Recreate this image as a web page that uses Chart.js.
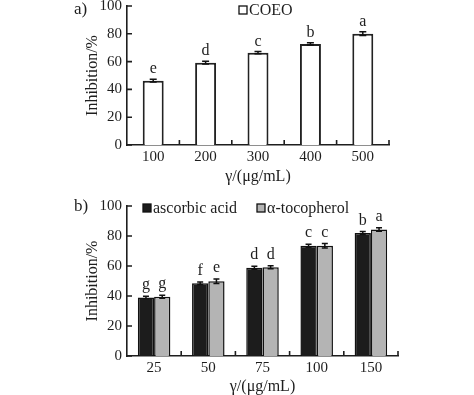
<!DOCTYPE html>
<html>
<head>
<meta charset="utf-8">
<script src="https://cdn.jsdelivr.net/npm/chart.js@4.4.1/dist/chart.umd.min.js"></script>
<style>
  html,body{margin:0;padding:0;background:#fff;overflow:hidden;width:474px;height:395px;}
  .wrap{position:absolute;left:0;width:474px;}
  canvas{display:block;}
</style>
</head>
<body>
<div class="wrap" id="wa" style="top:-10px;height:198px;"><canvas id="ca" width="474" height="198"></canvas></div>
<div class="wrap" id="wb" style="top:190px;height:205px;"><canvas id="cb" width="474" height="205"></canvas></div>
<script>
// ---- data: panel a ----
const catsA = ['100', '200', '300', '400', '500'];
const coeoValues = [46.3, 59.2, 66.4, 72.7, 80.1];
const coeoErrors = [1.0, 1.0, 0.8, 0.8, 1.4];
const coeoLetters = ['e', 'd', 'c', 'b', 'a'];
// ---- data: panel b ----
const catsB = ['25', '50', '75', '100', '150'];
const ascorbicValues = [39.0, 48.5, 58.8, 73.5, 82.0];
const ascorbicErrors = [0.8, 0.9, 1.0, 1.0, 1.0];
const ascorbicLetters = ['g', 'f', 'd', 'c', 'b'];
const tocoValues = [39.5, 49.8, 59.2, 73.5, 84.3];
const tocoErrors = [1.0, 1.5, 1.0, 1.5, 1.2];
const tocoLetters = ['g', 'e', 'd', 'c', 'a'];
const yTicks = [0, 20, 40, 60, 80, 100];

const SERIF = '"Liberation Serif", "Times New Roman", serif';
const INK = '#1e1e1e';

const decorPlugin = {
  id: 'decor',
  afterDatasetsDraw(chart, args, opts) {
    const ctx = chart.ctx;
    const y = chart.scales.y;
    ctx.save();
    chart.data.datasets.forEach((ds, di) => {
      const meta = chart.getDatasetMeta(di);
      meta.data.forEach((bar, i) => {
        const v = ds.data[i], e = ds.errors[i];
        const yt = y.getPixelForValue(v + e), yb = y.getPixelForValue(v - e);
        const cx = bar.x, hw = opts.cap / 2;
        ctx.strokeStyle = '#111';
        ctx.lineWidth = 1.5;
        ctx.beginPath();
        ctx.moveTo(cx, yt); ctx.lineTo(cx, yb);
        ctx.moveTo(cx - hw, yt); ctx.lineTo(cx + hw, yt);
        ctx.moveTo(cx - hw, yb); ctx.lineTo(cx + hw, yb);
        ctx.stroke();
        ctx.fillStyle = INK;
        ctx.font = '16px ' + SERIF;
        ctx.textAlign = 'center';
        ctx.textBaseline = 'alphabetic';
        ctx.fillText(ds.letters[i], cx, yt - opts.letterGap);
      });
    });
    ctx.restore();
  },
  afterDraw(chart, args, opts) {
    const ctx = chart.ctx;
    const x = chart.scales.x, y = chart.scales.y;
    const area = chart.chartArea;
    ctx.save();
    ctx.strokeStyle = INK;
    ctx.lineWidth = 1.6;
    ctx.beginPath();
    y.ticks.forEach((t, i) => {
      const py = y.getPixelForTick(i);
      ctx.moveTo(area.left, py); ctx.lineTo(area.left + 5, py);
    });
    const n = x.ticks.length;
    for (let i = 1; i <= n; i++) {
      const px = i < n ? (x.getPixelForTick(i - 1) + x.getPixelForTick(i)) / 2 : area.right;
      ctx.moveTo(px, area.bottom); ctx.lineTo(px, area.bottom - 5);
    }
    ctx.stroke();
    ctx.fillStyle = INK;
    ctx.font = '17px ' + SERIF;
    ctx.textAlign = 'left';
    ctx.textBaseline = 'middle';
    ctx.fillText(opts.panel, opts.panelX, area.top + opts.panelDY);
    ctx.font = '16px ' + SERIF;
    opts.legend.forEach(item => {
      ctx.fillStyle = item.fill;
      ctx.fillRect(item.x, area.top + item.dy - 4, 8, 8);
      ctx.strokeStyle = '#111';
      ctx.lineWidth = 1.3;
      ctx.strokeRect(item.x, area.top + item.dy - 4, 8, 8);
      ctx.fillStyle = INK;
      ctx.textBaseline = 'middle';
      ctx.fillText(item.label, item.x + 10, area.top + item.dy + 1);
    });
    ctx.restore();
  }
};

function makeOptions(titleBottomPad, yWidth, xHeight, decor) {
  return {
    responsive: false,
    animation: false,
    layout: { padding: { left: 79, right: decor.right, top: 16, bottom: 0 } },
    plugins: { legend: { display: false }, tooltip: { enabled: false }, decor: decor },
    scales: {
      x: {
        grid: { display: false, drawTicks: false },
        border: { display: true, color: INK, width: 1.6 },
        ticks: { color: INK, font: { family: SERIF, size: 15 }, padding: 3 },
        title: { display: true, text: 'γ/(μg/mL)', color: INK,
                 font: { family: SERIF, size: 16, lineHeight: 1 },
                 padding: { top: 0, bottom: titleBottomPad } },
        afterFit(s) { s.height = xHeight; }
      },
      y: {
        min: 0, max: 100,
        afterBuildTicks(s) { s.ticks = yTicks.map(v => ({ value: v })); },
        grid: { display: false, drawTicks: false },
        border: { display: true, color: INK, width: 1.6 },
        ticks: { color: INK, font: { family: SERIF, size: 15 }, padding: 5 },
        title: { display: true, text: 'Inhibition/%', color: INK,
                 font: { family: SERIF, size: 16, lineHeight: 1 },
                 padding: { top: 6, bottom: 0 } },
        afterFit(s) { s.width = yWidth; }
      }
    }
  };
}

new Chart(document.getElementById('ca'), {
  type: 'bar',
  data: {
    labels: catsA,
    datasets: [{
      label: 'COEO', data: coeoValues, errors: coeoErrors, letters: coeoLetters,
      backgroundColor: '#ffffff', borderColor: '#222', borderWidth: 2,
      categoryPercentage: 1.0, barPercentage: 0.4
    }]
  },
  options: makeOptions(3, 48, 43, {
    right: 85, cap: 7, letterGap: 6, panel: 'a)', panelX: 74, panelDY: 4,
    legend: [{ x: 239, dy: 4, fill: '#ffffff', label: 'COEO' }]
  }),
  plugins: [decorPlugin]
});

new Chart(document.getElementById('cb'), {
  type: 'bar',
  data: {
    labels: catsB,
    datasets: [
      { label: 'ascorbic acid', data: ascorbicValues, errors: ascorbicErrors, letters: ascorbicLetters,
        backgroundColor: '#1c1c1c', borderColor: '#111', borderWidth: 1.5,
        categoryPercentage: 0.6, barPercentage: 1.0 },
      { label: 'α-tocopherol', data: tocoValues, errors: tocoErrors, letters: tocoLetters,
        backgroundColor: '#b4b4b4', borderColor: '#111', borderWidth: 1.5,
        categoryPercentage: 0.6, barPercentage: 1.0 }
    ]
  },
  options: makeOptions(0, 48, 39, {
    right: 76, cap: 6, letterGap: 7, panel: 'b)', panelX: 74, panelDY: 1,
    legend: [{ x: 143, dy: 2, fill: '#1c1c1c', label: 'ascorbic acid' },
             { x: 257, dy: 2, fill: '#b4b4b4', label: 'α-tocopherol' }]
  }),
  plugins: [decorPlugin]
});
</script>
</body>
</html>
